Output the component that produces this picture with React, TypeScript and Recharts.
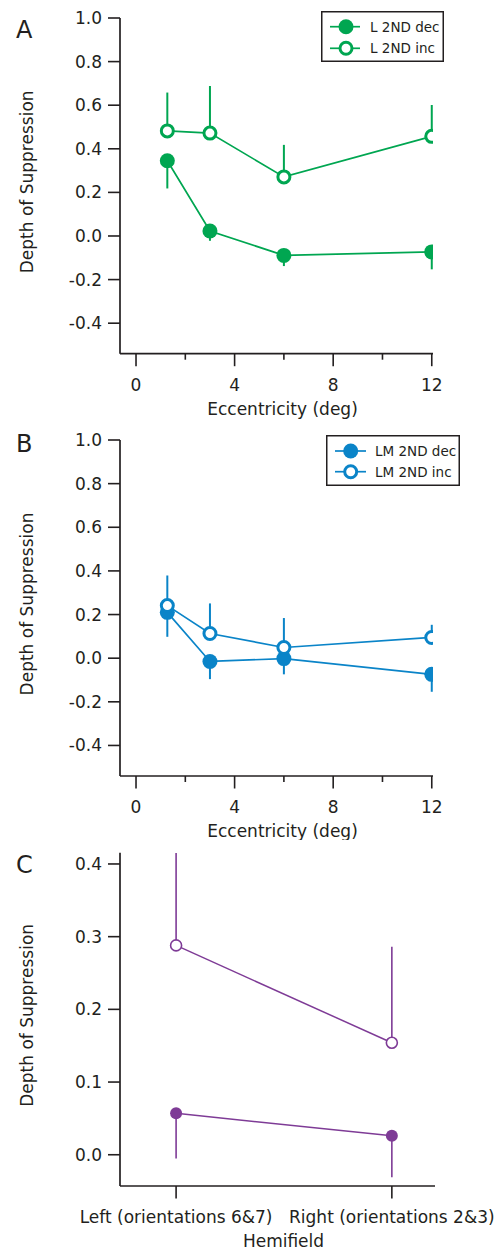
import React from "react";
import { LineChart, Line, XAxis, YAxis, ErrorBar, Legend } from "recharts";

// eccentricity (deg) of the tested positions
const eccentricity = [1.27, 3, 6, 12];
const eccMajorTicks = [0, 4, 8, 12];
const eccMinorTicks = [2, 6, 10];
const depthTicks = [-0.4, -0.2, 0, 0.2, 0.4, 0.6, 0.8, 1.0];

// panel A: L 2ND
const lDec = [0.345, 0.023, -0.089, -0.073];
const lDecErr = [0.127, 0.045, 0.049, 0.08];
const lInc = [0.482, 0.472, 0.271, 0.457];
const lIncErr = [0.176, 0.216, 0.147, 0.144];

// panel B: LM 2ND
const lmDec = [0.21, -0.015, -0.002, -0.074];
const lmDecErr = [0.112, 0.081, 0.072, 0.08];
const lmInc = [0.241, 0.113, 0.049, 0.095];
const lmIncErr = [0.138, 0.138, 0.135, 0.058];

// panel C: hemifield
const hemifields = ["Left (orientations 6&7)", "Right (orientations 2&3)"];
const hemiDec = [0.057, 0.026];
const hemiDecErr = [0.062, 0.057];
const hemiInc = [0.288, 0.154];
const hemiIncErr = [0.127, 0.132];
const hemiTicks = [0, 0.1, 0.2, 0.3, 0.4];

const GREEN = "#00a651";
const BLUE = "#0a84c8";
const PURPLE = "#7e3b96";
const INK = "#231f20";
const FONT = "'DejaVu Sans', sans-serif";
const FS = 17;

const dataA = eccentricity.map((x, i) => ({
  x,
  dec: lDec[i],
  decErr: [lDecErr[i], 0],
  inc: lInc[i],
  incErr: [0, lIncErr[i]],
}));
const dataB = eccentricity.map((x, i) => ({
  x,
  dec: lmDec[i],
  decErr: [lmDecErr[i], 0],
  inc: lmInc[i],
  incErr: [0, lmIncErr[i]],
}));
const dataC = hemifields.map((_, i) => ({
  x: i,
  dec: hemiDec[i],
  decErr: [hemiDecErr[i], 0],
  inc: hemiInc[i],
  incErr: [0, hemiIncErr[i]],
}));

const eccTicks = [...eccMajorTicks, ...eccMinorTicks].sort((a, b) => a - b);
const eccLabel = (v: number) => (eccMajorTicks.includes(v) ? String(v) : "");
const hemiLabel = (v: number) => hemifields[v] ?? "";

const makeXTick = (labelFor: (v: number) => string) => (props: any) => {
  const { x, y, payload } = props;
  const label = labelFor(payload.value);
  const major = label !== "";
  return (
    <g>
      <line x1={x} x2={x} y1={y} y2={y + (major ? 12.5 : 6)} stroke={INK} strokeWidth={1.6} />
      {major && (
        <text x={x} y={y + 37} textAnchor="middle" fontSize={FS} fill={INK}>
          {label}
        </text>
      )}
    </g>
  );
};

const YTitle = (props: any) => {
  const { x, y, height } = props.viewBox;
  const cx = x + 7;
  const cy = y + height / 2 - 4;
  return (
    <text
      x={cx}
      y={cy}
      transform={`rotate(-90 ${cx} ${cy})`}
      textAnchor="middle"
      dominantBaseline="central"
      fontSize={FS}
      fill={INK}
    >
      Depth of Suppression
    </text>
  );
};

const XTitle = (props: any) => {
  const { x, y, width } = props.viewBox;
  return (
    <text x={x + width / 2 + 6} y={y + 61} textAnchor="middle" fontSize={FS} fill={INK}>
      {props.text}
    </text>
  );
};

interface LegendBox {
  x: number;
  y: number;
  w: number;
  h: number;
  rows: number[];
  line: [number, number];
  mark: number;
  text: number;
}

const makeLegend = (names: string[], color: string, box: LegendBox) => () => (
  <svg width={box.w} height={box.h} style={{ display: "block" }}>
    <rect x={0.75} y={0.75} width={box.w - 1.5} height={box.h - 1.5} fill="#fff" stroke={INK} strokeWidth={1.5} />
    {names.map((name, i) => {
      const cy = box.rows[i];
      const filled = i === 0;
      return (
        <g key={name}>
          <line x1={box.line[0]} x2={box.line[1]} y1={cy} y2={cy} stroke={color} strokeWidth={1.7} />
          <circle
            cx={box.mark}
            cy={cy}
            r={filled ? 7.5 : 6}
            fill={filled ? color : "#fff"}
            stroke={color}
            strokeWidth={filled ? 0 : 3}
          />
          <text x={box.text} y={cy + 4.8} fontSize={13.5} fill={INK}>
            {name}
          </text>
        </g>
      );
    })}
  </svg>
);

interface PanelProps {
  letter: string;
  letterY: number;
  data: any[];
  color: string;
  height: number;
  margin: { top: number; right: number; bottom: number; left: number };
  xDomain: [number, number];
  xTicks: number[];
  xLabel: (v: number) => string;
  xTitle: string;
  yDomain: [number, number];
  yTicks: number[];
  yFormat: (v: number) => string;
  big: boolean;
  legend?: { names: string[]; box: LegendBox };
}

function Panel(p: PanelProps) {
  const filledR = p.big ? 7.5 : 6;
  const openR = p.big ? 6 : 5.5;
  const openW = p.big ? 3 : 1.6;
  const lineW = p.big ? 1.7 : 1.5;
  const errW = p.big ? 2 : 1.6;
  return (
    <LineChart width={502} height={p.height} data={p.data} margin={p.margin}>
      <XAxis
        dataKey="x"
        type="number"
        domain={p.xDomain}
        allowDataOverflow
        ticks={p.xTicks}
        interval={0}
        tickSize={0}
        tickMargin={0}
        tickLine={false}
        height={40}
        axisLine={{ stroke: INK, strokeWidth: 1.7 }}
        tick={makeXTick(p.xLabel)}
        label={<XTitle text={p.xTitle} />}
      />
      <YAxis
        type="number"
        domain={p.yDomain}
        allowDataOverflow
        ticks={p.yTicks}
        interval={0}
        width={100}
        tickSize={12}
        tickMargin={6}
        tickFormatter={p.yFormat}
        tick={{ fontSize: FS, fill: INK }}
        tickLine={{ stroke: INK, strokeWidth: 1.6 }}
        axisLine={{ stroke: INK, strokeWidth: 1.7 }}
        label={<YTitle />}
      />
      <Line
        dataKey="dec"
        stroke={p.color}
        strokeWidth={lineW}
        isAnimationActive={false}
        dot={{ r: filledR, fill: p.color, stroke: p.color, strokeWidth: 0 }}
        activeDot={false}
      >
        <ErrorBar dataKey="decErr" direction="y" width={0} stroke={p.color} strokeWidth={errW} />
      </Line>
      <Line
        dataKey="inc"
        stroke={p.color}
        strokeWidth={lineW}
        isAnimationActive={false}
        dot={{ r: openR, fill: "#fff", stroke: p.color, strokeWidth: openW }}
        activeDot={false}
      >
        <ErrorBar dataKey="incErr" direction="y" width={0} stroke={p.color} strokeWidth={errW} />
      </Line>
      {p.legend && (
        <Legend
          layout="vertical"
          align="center"
          verticalAlign="middle"
          content={makeLegend(p.legend.names, p.color, p.legend.box)}
          wrapperStyle={{
            left: p.legend.box.x,
            top: p.legend.box.y,
            width: p.legend.box.w,
            height: p.legend.box.h,
          }}
        />
      )}
      <text x={16} y={p.letterY} fontSize={24} fill={INK}>
        {p.letter}
      </text>
    </LineChart>
  );
}

const fmt1 = (v: number) => v.toFixed(1);

export default function App() {
  return (
    <div
      style={{
        position: "absolute",
        left: 0,
        top: 0,
        width: 502,
        height: 1251,
        background: "#fff",
        fontFamily: FONT,
      }}
    >
      <Panel
        letter="A"
        letterY={37.7}
        data={dataA}
        color={GREEN}
        height={420}
        margin={{ top: 18, right: 69, bottom: 26.3, left: 20 }}
        xDomain={[-0.65, 12.05]}
        xTicks={eccTicks}
        xLabel={eccLabel}
        xTitle="Eccentricity (deg)"
        yDomain={[-0.54, 1.0]}
        yTicks={depthTicks}
        yFormat={fmt1}
        big
        legend={{
          names: ["L 2ND dec", "L 2ND inc"],
          box: { x: 321, y: 11, w: 123, h: 51, rows: [15.7, 37.3], line: [9, 39], mark: 25, text: 49 },
        }}
      />
      <Panel
        letter="B"
        letterY={32}
        data={dataB}
        color={BLUE}
        height={420}
        margin={{ top: 20, right: 69, bottom: 24, left: 20 }}
        xDomain={[-0.65, 12.05]}
        xTicks={eccTicks}
        xLabel={eccLabel}
        xTitle="Eccentricity (deg)"
        yDomain={[-0.54, 1.0]}
        yTicks={depthTicks}
        yFormat={fmt1}
        big
        legend={{
          names: ["LM 2ND dec", "LM 2ND inc"],
          box: { x: 326, y: 15, w: 134, h: 51, rows: [16, 36.7], line: [9, 40], mark: 24.7, text: 49 },
        }}
      />
      <Panel
        letter="C"
        letterY={33.3}
        data={dataC}
        color={PURPLE}
        height={411}
        margin={{ top: 12.7, right: 67, bottom: 25, left: 20 }}
        xDomain={[-0.26, 1.2]}
        xTicks={[0, 1]}
        xLabel={hemiLabel}
        xTitle="Hemifield"
        yDomain={[-0.043, 0.4155]}
        yTicks={hemiTicks}
        yFormat={fmt1}
        big={false}
      />
    </div>
  );
}
